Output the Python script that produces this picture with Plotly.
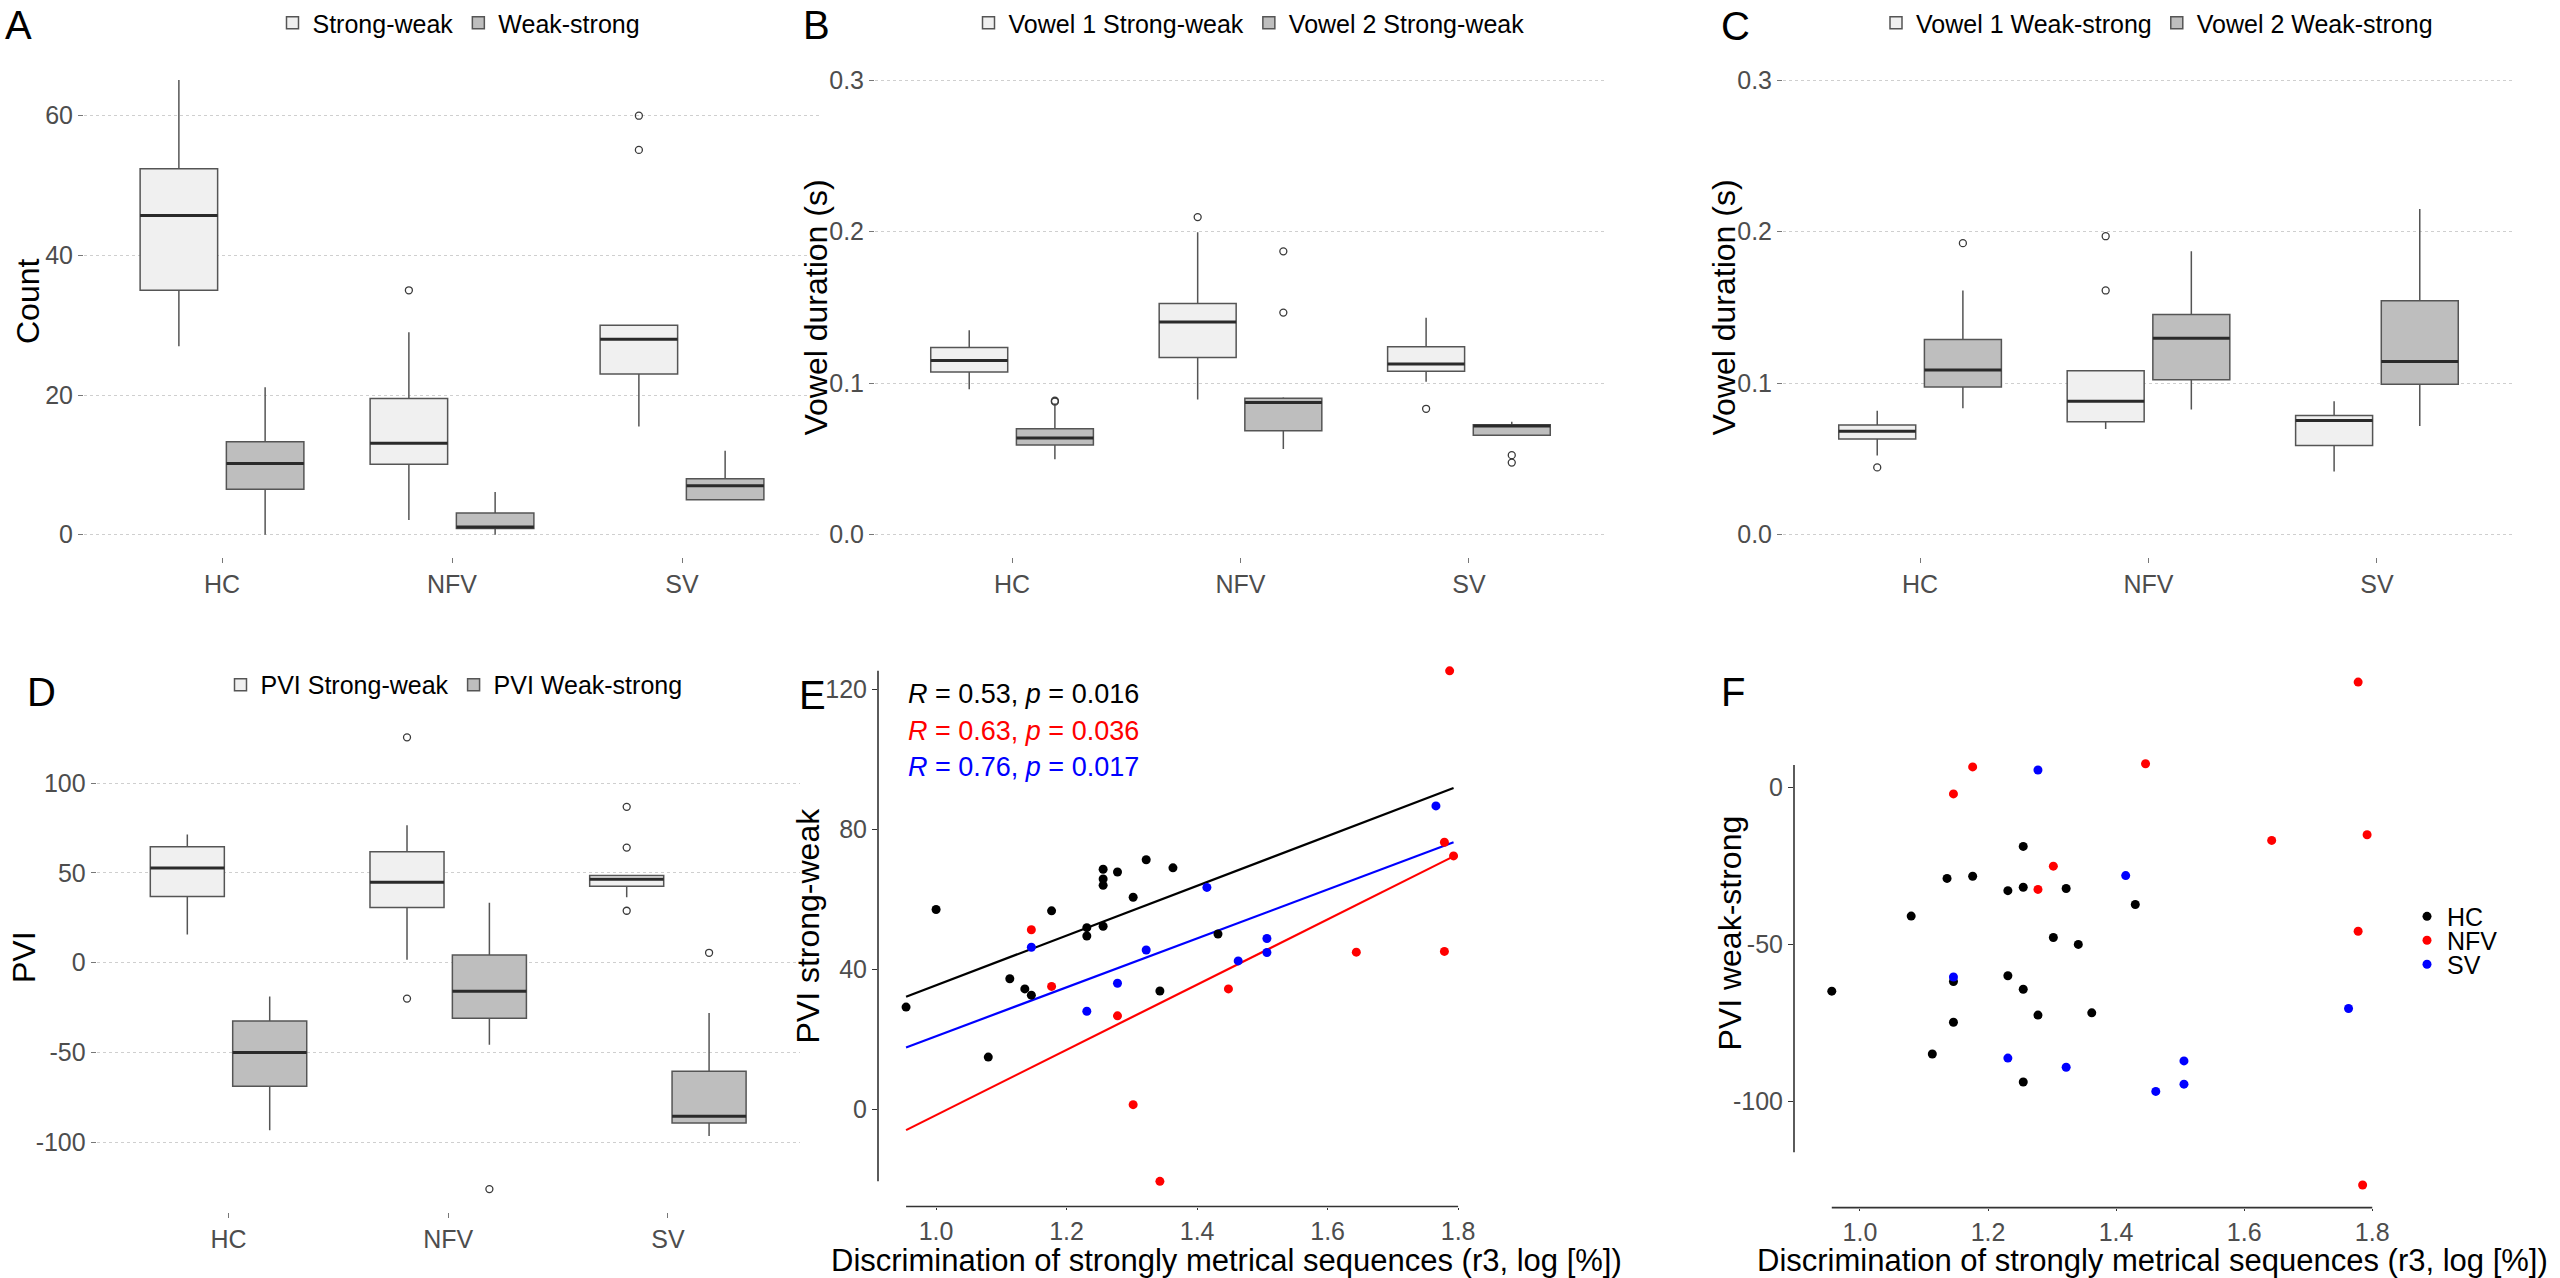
import numpy as np
import plotly.graph_objects as go

# ---------------------------------------------------------------- data
groups = ["HC", "NFV", "SV"]

# Panel A: counts
a_names = ["Strong-weak", "Weak-strong"]
a_sw_lo = [27.0, 2.1, 15.5]
a_sw_q1 = [35.0, 10.1, 23.0]
a_sw_med = [45.7, 13.1, 28.0]
a_sw_q3 = [52.4, 19.5, 30.0]
a_sw_hi = [65.1, 29.0, 30.0]
a_sw_out = [[], [35.0], [55.1, 60.0]]
a_ws_lo = [0.0, 0.0, 5.0]
a_ws_q1 = [6.5, 0.9, 5.0]
a_ws_med = [10.2, 1.1, 7.0]
a_ws_q3 = [13.3, 3.1, 8.0]
a_ws_hi = [21.1, 6.1, 12.0]
a_ws_out = [[], [], []]

# Panel B: vowel durations, strong-weak
b_names = ["Vowel 1 Strong-weak", "Vowel 2 Strong-weak"]
b_v1_lo = [0.096, 0.0893, 0.1009]
b_v1_q1 = [0.1074, 0.117, 0.1079]
b_v1_med = [0.1149, 0.1404, 0.1127]
b_v1_q3 = [0.1235, 0.1526, 0.124]
b_v1_hi = [0.135, 0.1996, 0.1431]
b_v1_out = [[], [0.2096], [0.0831]]
b_v2_lo = [0.0498, 0.0565, 0.0656]
b_v2_q1 = [0.0592, 0.0686, 0.0656]
b_v2_med = [0.0638, 0.0872, 0.0718]
b_v2_q3 = [0.070, 0.0901, 0.0726]
b_v2_hi = [0.0855, 0.0907, 0.0745]
b_v2_out = [[0.0878, 0.0884], [0.1466, 0.187], [0.0476, 0.0525]]

# Panel C: vowel durations, weak-strong
c_names = ["Vowel 1 Weak-strong", "Vowel 2 Weak-strong"]
c_v1_lo = [0.0522, 0.0697, 0.0417]
c_v1_q1 = [0.0632, 0.0745, 0.0589]
c_v1_med = [0.0683, 0.088, 0.0753]
c_v1_q3 = [0.0724, 0.1082, 0.0786]
c_v1_hi = [0.0818, 0.1082, 0.088]
c_v1_out = [[0.0444], [0.1612, 0.197], []]
c_v2_lo = [0.0834, 0.0826, 0.0718]
c_v2_q1 = [0.0974, 0.1022, 0.0993]
c_v2_med = [0.1087, 0.1297, 0.1143]
c_v2_q3 = [0.1289, 0.1453, 0.1544]
c_v2_hi = [0.1612, 0.187, 0.215]
c_v2_out = [[0.1924], [], []]

# Panel D: PVI
d_names = ["PVI Strong-weak", "PVI Weak-strong"]
d_sw_lo = [15.7, 1.6, 36.4]
d_sw_q1 = [36.8, 30.7, 42.5]
d_sw_med = [52.7, 44.8, 46.4]
d_sw_q3 = [64.5, 61.8, 48.6]
d_sw_hi = [71.4, 76.6, 48.6]
d_sw_out = [[], [125.5, -20.0], [86.8, 64.1, 28.9]]
d_ws_lo = [-93.4, -45.7, -96.6]
d_ws_q1 = [-68.9, -30.9, -89.3]
d_ws_med = [-50.0, -15.9, -85.5]
d_ws_q3 = [-32.5, 4.3, -60.5]
d_ws_hi = [-18.9, 33.4, -28.0]
d_ws_out = [[], [-126.1], [5.5]]

# Panel E: PVI strong-weak vs discrimination
e_hc_x = [0.954, 1.000, 1.080, 1.113, 1.136, 1.146, 1.177, 1.231, 1.231, 1.256,
          1.256, 1.256, 1.256, 1.278, 1.302, 1.322, 1.343, 1.363, 1.432]
e_hc_y = [29.2, 57.1, 14.9, 37.3, 34.4, 32.6, 56.7, 51.9, 49.5, 68.6,
          65.8, 64.0, 52.3, 67.8, 60.6, 71.3, 33.8, 69.0, 50.1]
e_nfv_x = [1.146, 1.177, 1.278, 1.302, 1.343, 1.448, 1.644, 1.779, 1.779, 1.787, 1.793]
e_nfv_y = [51.3, 35.1, 26.7, 1.3, -20.6, 34.4, 44.9, 76.3, 45.1, 125.3, 72.4]
e_sv_x = [1.146, 1.231, 1.278, 1.322, 1.415, 1.463, 1.507, 1.507, 1.766]
e_sv_y = [46.3, 28.0, 36.0, 45.5, 63.4, 42.4, 48.8, 44.8, 86.7]
e_labels = ["<i>R</i> = 0.53, <i>p</i> = 0.016",
            "<i>R</i> = 0.63, <i>p</i> = 0.036",
            "<i>R</i> = 0.76, <i>p</i> = 0.017"]

# Panel F: PVI weak-strong vs discrimination
f_hc_x = [0.956, 1.080, 1.113, 1.136, 1.146, 1.146, 1.176, 1.231, 1.231, 1.255,
          1.255, 1.255, 1.255, 1.278, 1.302, 1.322, 1.341, 1.362, 1.430]
f_hc_y = [-64.9, -41.0, -84.9, -29.0, -61.8, -74.8, -28.3, -32.9, -60.0, -18.8,
          -31.8, -64.3, -93.8, -72.5, -47.8, -32.2, -50.0, -71.8, -37.3]
f_nfv_x = [1.146, 1.176, 1.278, 1.302, 1.446, 1.643, 1.778, 1.778, 1.792, 1.785]
f_nfv_y = [-2.1, 6.5, -32.5, -25.1, 7.5, -16.9, 33.5, -45.8, -15.1, -126.6]
f_sv_x = [1.146, 1.231, 1.278, 1.322, 1.415, 1.462, 1.506, 1.506, 1.763]
f_sv_y = [-60.4, -86.2, 5.5, -89.1, -28.1, -96.8, -87.1, -94.5, -70.4]

# tick labels
a_ticks = [0, 20, 40, 60]
a_ticktext = ["0", "20", "40", "60"]
bc_ticks = [0.0, 0.1, 0.2, 0.3]
bc_ticktext = ["0.0", "0.1", "0.2", "0.3"]
d_ticks = [-100, -50, 0, 50, 100]
d_ticktext = ["-100", "-50", "0", "50", "100"]
e_yticks = [0, 40, 80, 120]
e_yticktext = ["0", "40", "80", "120"]
f_yticks = [-100, -50, 0]
f_yticktext = ["-100", "-50", "0"]
sc_xticks = [1.0, 1.2, 1.4, 1.6, 1.8]
sc_xticktext = ["1.0", "1.2", "1.4", "1.6", "1.8"]

x_title = "Discrimination of strongly metrical sequences (r3, log [%])"

# ---------------------------------------------------------------- style
W, H = 2560, 1278
FONT = "Liberation Sans, Arial, sans-serif"
TICK_COL = "#4D4D4D"
FILLS = ["#F0F0F0", "#BEBEBE"]
OUTLINE = "#555555"
MEDIAN = "#2A2A2A"
BOX_W = 0.337
OFFSETS = [-0.1875, 0.1875]
COLORS = {"HC": "#000000", "NFV": "#FF0000", "SV": "#0000FF"}


def px(x):
    return x / W


def py(y):
    return 1 - y / H


fig = go.Figure()


def ax_ids(n):
    return ("x" if n == 1 else f"x{n}"), ("y" if n == 1 else f"y{n}")


def add_box_panel(n, names, stats, legend_name):
    xa, ya = ax_ids(n)
    for k, (name, st) in enumerate(zip(names, stats)):
        lo, q1, med, q3, hi, outs = st
        xpos = [i + 1 + OFFSETS[k] for i in range(len(groups))]
        fig.add_trace(go.Box(
            x=xpos, q1=q1, median=med, q3=q3, lowerfence=lo, upperfence=hi,
            orientation="v", width=BOX_W, boxpoints=False, whiskerwidth=0,
            fillcolor=FILLS[k], line=dict(color=OUTLINE, width=1.5),
            name=name, legend=legend_name, xaxis=xa, yaxis=ya, hoverinfo="skip"))
        mx, my = [], []
        for c, m in zip(xpos, med):
            mx += [c - BOX_W / 2, c + BOX_W / 2, None]
            my += [m, m, None]
        fig.add_trace(go.Scatter(x=mx, y=my, mode="lines",
                                 line=dict(color=MEDIAN, width=3),
                                 showlegend=False, xaxis=xa, yaxis=ya, hoverinfo="skip"))
        ox, oy = [], []
        for c, o in zip(xpos, outs):
            ox += [c] * len(o)
            oy += o
        fig.add_trace(go.Scatter(x=ox, y=oy, mode="markers",
                                 marker=dict(symbol="circle-open", size=7, color="#3A3A3A",
                                             line=dict(width=1.3, color="#3A3A3A")),
                                 showlegend=False, xaxis=xa, yaxis=ya, hoverinfo="skip"))


add_box_panel(1, a_names,
              [(a_sw_lo, a_sw_q1, a_sw_med, a_sw_q3, a_sw_hi, a_sw_out),
               (a_ws_lo, a_ws_q1, a_ws_med, a_ws_q3, a_ws_hi, a_ws_out)], "legend")
add_box_panel(2, b_names,
              [(b_v1_lo, b_v1_q1, b_v1_med, b_v1_q3, b_v1_hi, b_v1_out),
               (b_v2_lo, b_v2_q1, b_v2_med, b_v2_q3, b_v2_hi, b_v2_out)], "legend2")
add_box_panel(3, c_names,
              [(c_v1_lo, c_v1_q1, c_v1_med, c_v1_q3, c_v1_hi, c_v1_out),
               (c_v2_lo, c_v2_q1, c_v2_med, c_v2_q3, c_v2_hi, c_v2_out)], "legend3")
add_box_panel(4, d_names,
              [(d_sw_lo, d_sw_q1, d_sw_med, d_sw_q3, d_sw_hi, d_sw_out),
               (d_ws_lo, d_ws_q1, d_ws_med, d_ws_q3, d_ws_hi, d_ws_out)], "legend4")

# Panel E
e_sets = {"HC": (e_hc_x, e_hc_y), "NFV": (e_nfv_x, e_nfv_y), "SV": (e_sv_x, e_sv_y)}
e_all_x = e_hc_x + e_nfv_x + e_sv_x
e_all_y = e_hc_y + e_nfv_y + e_sv_y
x_line = np.array([min(e_all_x), max(e_all_x)])
for g in groups:
    xs, ys = e_sets[g]
    slope, icpt = np.polyfit(xs, ys, 1)
    fig.add_trace(go.Scatter(x=x_line, y=slope * x_line + icpt, mode="lines",
                             line=dict(color=COLORS[g], width=2.2),
                             showlegend=False, xaxis="x5", yaxis="y5", hoverinfo="skip"))
for g in groups:
    xs, ys = e_sets[g]
    fig.add_trace(go.Scatter(x=xs, y=ys, mode="markers", name=g,
                             marker=dict(color=COLORS[g], size=9),
                             showlegend=False, xaxis="x5", yaxis="y5"))

# Panel F
f_sets = {"HC": (f_hc_x, f_hc_y), "NFV": (f_nfv_x, f_nfv_y), "SV": (f_sv_x, f_sv_y)}
f_legends = {"HC": "legend5", "NFV": "legend6", "SV": "legend7"}
for g in groups:
    xs, ys = f_sets[g]
    fig.add_trace(go.Scatter(x=xs, y=ys, mode="markers", name=g,
                             marker=dict(color=COLORS[g], size=9),
                             showlegend=True, legend=f_legends[g],
                             xaxis="x6", yaxis="y6"))

# ---------------------------------------------------------------- layout
tickfont = dict(family=FONT, size=25, color=TICK_COL)


def box_xaxis(x0, x1, anchor):
    return dict(domain=[px(x0), px(x1)], range=[0.4, 3.6], tickvals=[1, 2, 3],
                ticktext=groups, showgrid=False, zeroline=False, showline=False,
                ticks="outside", ticklen=5, tickcolor="#777777", tickwidth=1,
                tickfont=tickfont, anchor=anchor, fixedrange=True)


def box_yaxis(y_top, y_bot, rng, tv, tt, anchor):
    return dict(domain=[py(y_bot), py(y_top)], range=rng, tickvals=tv, ticktext=tt,
                showgrid=True, gridcolor="#CFCFCF", griddash="dot", gridwidth=1.3,
                zeroline=False, showline=False, ticks="outside", ticklen=5,
                tickcolor="#777777", tickwidth=1, tickfont=tickfont, anchor=anchor,
                fixedrange=True)


def sc_axis(dom, rng, tv, tt, anchor, tlen=5):
    return dict(domain=dom, range=rng, tickvals=tv, ticktext=tt, showgrid=False,
                zeroline=False, showline=False, ticks="outside", ticklen=tlen,
                tickcolor="#333333", tickwidth=1.2, tickfont=tickfont, anchor=anchor,
                fixedrange=True)


layout = dict(
    width=W, height=H, margin=dict(l=0, r=0, t=0, b=0),
    paper_bgcolor="white", plot_bgcolor="white",
    font=dict(family=FONT, color="black"),
    xaxis=box_xaxis(84, 820, "y"),
    yaxis=box_yaxis(55.5, 556.3, [-3.26, 68.35], a_ticks, a_ticktext, "x"),
    xaxis2=box_xaxis(875, 1606, "y2"),
    yaxis2=box_yaxis(55.5, 556.3, [-0.015, 0.315], bc_ticks, bc_ticktext, "x2"),
    xaxis3=box_xaxis(1783, 2514, "y3"),
    yaxis3=box_yaxis(55.5, 556.3, [-0.015, 0.315], bc_ticks, bc_ticktext, "x3"),
    xaxis4=box_xaxis(96.7, 799.7, "y4"),
    yaxis4=box_yaxis(714, 1211.6, [-138.7, 138.0], d_ticks, d_ticktext, "x4"),
    xaxis5=sc_axis([px(878), px(1479)], [0.911, 1.832], sc_xticks, sc_xticktext, "y5", 2),
    yaxis5=sc_axis([py(1206.4), py(645)], [-27.8, 132.4], e_yticks, e_yticktext, "x5"),
    xaxis6=sc_axis([px(1794), px(2394)], [0.897, 1.834], sc_xticks, sc_xticktext, "y6", 2),
    yaxis6=sc_axis([py(1207.5), py(656)], [-133.8, 41.5], f_yticks, f_yticktext, "x6"),
    showlegend=True,
)

leg_font = dict(family=FONT, size=25, color="black")


def hleg(cx, cy):
    return dict(x=px(cx), y=py(cy), xanchor="center", yanchor="middle",
                orientation="h", font=leg_font, bgcolor="rgba(0,0,0,0)",
                itemclick=False, itemdoubleclick=False)


def vleg(lx, cy):
    return dict(x=px(lx), y=py(cy), xanchor="left", yanchor="middle",
                orientation="v", font=leg_font, bgcolor="rgba(0,0,0,0)",
                itemclick=False, itemdoubleclick=False)


layout["legend"] = hleg(459, 21)
layout["legend2"] = hleg(1249, 21)
layout["legend3"] = hleg(2157, 21)
layout["legend4"] = hleg(454, 684)
layout["legend5"] = vleg(2407, 916)
layout["legend6"] = vleg(2407, 940)
layout["legend7"] = vleg(2407, 964)

fig.update_layout(**layout)

# capped axis lines for scatter panels
line_style = dict(color="#333333", width=1.6)
shapes = [
    dict(type="line", xref="x5 domain", yref="y5", x0=0, x1=0,
         y0=min(e_all_y), y1=max(e_all_y), line=line_style),
    dict(type="line", xref="x5", yref="y5 domain", x0=min(e_all_x), x1=sc_xticks[-1],
         y0=0, y1=0, line=line_style),
    dict(type="line", xref="x6 domain", yref="y6", x0=0, x1=0,
         y0=-116.2, y1=7.1, line=line_style),
    dict(type="line", xref="x6", yref="y6 domain", x0=min(f_hc_x + f_nfv_x + f_sv_x),
         x1=sc_xticks[-1], y0=0, y1=0, line=line_style),
]
fig.update_layout(shapes=shapes)

ann = []
# panel letters
for letter, lx, ly in [("A", 18.5, 23), ("B", 816, 23), ("C", 1735, 24),
                       ("D", 41.5, 691), ("E", 812, 694), ("F", 1733, 691)]:
    ann.append(dict(text=letter, x=px(lx), y=py(ly), xref="paper", yref="paper",
                    xanchor="center", yanchor="middle", showarrow=False,
                    font=dict(family=FONT, size=40, color="black")))
# y axis titles
for t, tx, ty in [("Count", 27.5, 300), ("Vowel duration (s)", 816, 306),
                  ("Vowel duration (s)", 1724, 306), ("PVI", 23.5, 957),
                  ("PVI strong-weak", 808, 925), ("PVI weak-strong", 1730, 933)]:
    ann.append(dict(text=t, x=px(tx), y=py(ty), xref="paper", yref="paper",
                    xanchor="center", yanchor="middle", textangle=-90, showarrow=False,
                    font=dict(family=FONT, size=32, color="black")))
# x axis titles
for tx, ty in [(1226.5, 1260), (2152, 1260)]:
    ann.append(dict(text=x_title, x=px(tx), y=py(ty), xref="paper", yref="paper",
                    xanchor="center", yanchor="middle", showarrow=False,
                    font=dict(family=FONT, size=31, color="black")))
# correlation labels
for lab, g, ty in zip(e_labels, groups, [693, 730, 766]):
    ann.append(dict(text=lab, x=min(e_all_x), y=py(ty), xref="x5", yref="paper",
                    xanchor="left", yanchor="middle", showarrow=False,
                    font=dict(family=FONT, size=27, color=COLORS[g])))
fig.update_layout(annotations=ann)

fig.write_html("out.html")
